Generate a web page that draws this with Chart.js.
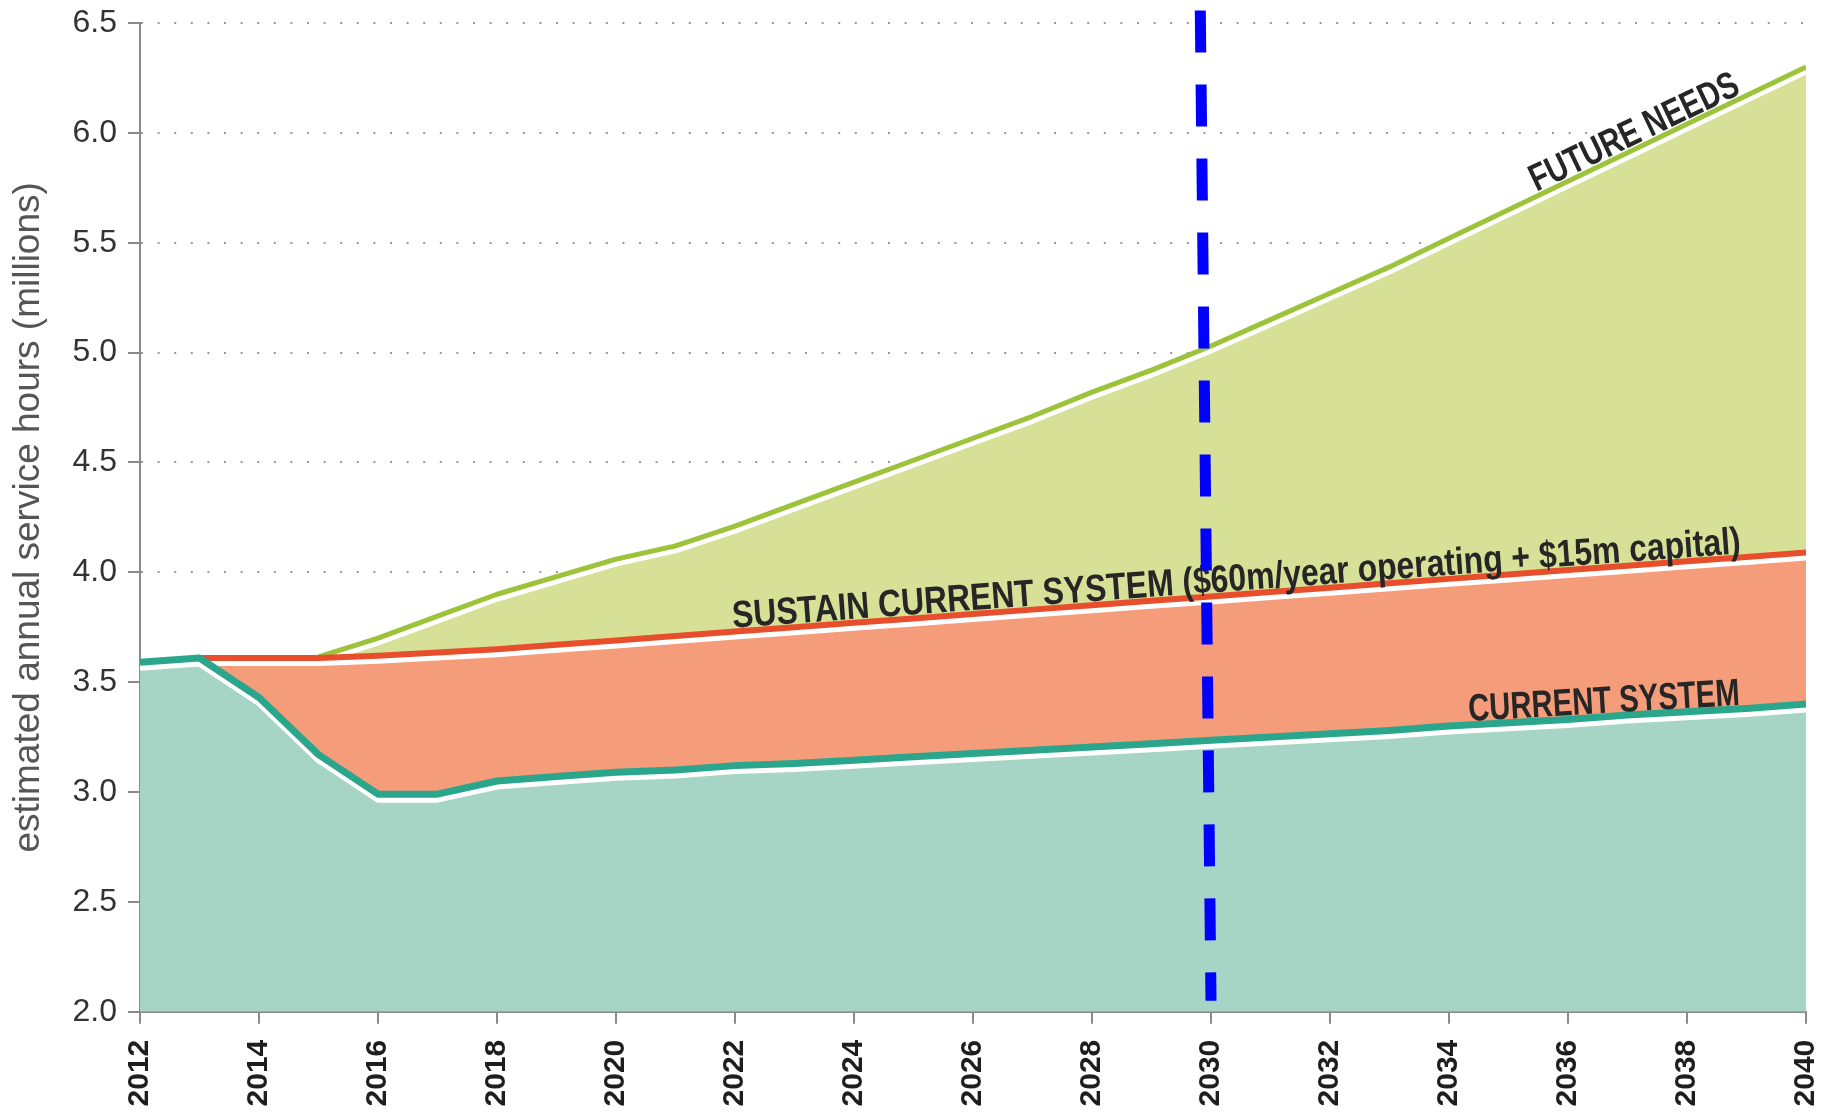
<!DOCTYPE html>
<html>
<head>
<meta charset="utf-8">
<script src="https://cdn.jsdelivr.net/npm/chart.js@4/dist/chart.umd.min.js"></script>
<style>
html,body{margin:0;padding:0;background:#ffffff;}
#wrap{width:1825px;height:1118px;}
</style>
</head>
<body>
<div id="wrap"><canvas id="c" width="1825" height="1118"></canvas></div>
<script>
// ---------- data ----------
const years = [2012,2013,2014,2015,2016,2017,2018,2019,2020,2021,2022,2023,2024,2025,2026,
               2027,2028,2029,2030,2031,2032,2033,2034,2035,2036,2037,2038,2039,2040];
const currentSystem = [3.59,3.61,3.43,3.17,2.99,2.99,3.05,3.07,3.09,3.10,3.12,3.13,3.145,3.16,3.175,
                       3.19,3.205,3.22,3.235,3.25,3.265,3.28,3.30,3.315,3.33,3.35,3.365,3.38,3.40];
const sustainSystem = [null,3.61,3.61,3.61,3.62,3.635,3.65,3.67,3.69,3.71,3.73,3.75,3.77,3.79,3.81,
                       3.83,3.85,3.87,3.89,3.91,3.93,3.95,3.97,3.99,4.01,4.03,4.05,4.07,4.09];
const futureNeeds   = [null,null,null,3.615,3.70,3.80,3.90,3.98,4.06,4.12,4.21,4.31,4.41,4.51,4.61,
                       4.71,4.82,4.92,5.03,5.15,5.27,5.39,5.52,5.65,5.78,5.91,6.04,6.17,6.30];
const markerYears  = [2029.82, 2030.0];
const markerValues = [6.557, 2.05];
const xTickYears  = [2012,2014,2016,2018,2020,2022,2024,2026,2028,2030,2032,2034,2036,2038,2040];
const yTickValues = [2.0,2.5,3.0,3.5,4.0,4.5,5.0,5.5,6.0,6.5];
const yAxisTitle = 'estimated annual service hours (millions)';
const seriesLabels = ['CURRENT SYSTEM', 'SUSTAIN CURRENT SYSTEM ($60m/year operating + $15m capital)', 'FUTURE NEEDS'];

// ---------- chart ----------
const toPts = arr => years.map((yr, i) => ({x: yr, y: arr[i]}));

// label placement along each series line (dataset index, start year, end year)
const labelPlacement = [
  {ds: 1, text: seriesLabels[0], from: 2034.34, to: 2038.9},
  {ds: 2, text: seriesLabels[1], from: 2021.97, to: 2038.92},
  {ds: 3, text: seriesLabels[2], from: 2035.5, to: 2038.95}
];

function pointOnLine(chart, dsIndex, yr) {
  const d = chart.data.datasets[dsIndex].data;
  for (let i = 0; i < d.length - 1; i++) {
    const a = d[i], b = d[i + 1];
    if (a.y == null || b.y == null) continue;
    if (yr >= a.x && yr <= b.x) {
      const t = (yr - a.x) / (b.x - a.x);
      const v = a.y + t * (b.y - a.y);
      return {x: chart.scales.x.getPixelForValue(yr), y: chart.scales.y.getPixelForValue(v)};
    }
  }
  return null;
}

const lineDecor = {
  id: 'lineDecor',
  beforeDatasetDraw(chart, args) {
    if (args.index >= 1) {
      const ctx = chart.ctx;
      ctx.save();
      ctx.shadowColor = '#ffffff';
      ctx.shadowOffsetX = 0;
      ctx.shadowOffsetY = 5;
      ctx.shadowBlur = 0;
    }
  },
  afterDatasetDraw(chart, args) {
    const ctx = chart.ctx;
    if (args.index >= 1) ctx.restore();
    if (args.index === 1) {
      // draw labels before the 2030 marker
      labelPlacement.forEach(l => {
        const p0 = pointOnLine(chart, l.ds, l.from);
        const p1 = pointOnLine(chart, l.ds, l.to);
        if (!p0 || !p1) return;
        ctx.save();
        ctx.translate(p0.x, p0.y);
        ctx.rotate(Math.atan2(p1.y - p0.y, p1.x - p0.x));
        ctx.translate(0, -4);
        ctx.font = 'bold 38px "Liberation Sans", Arial, sans-serif';
        const w = ctx.measureText(l.text).width;
        const len = Math.hypot(p1.x - p0.x, p1.y - p0.y);
        ctx.scale(len / w, 1);
        ctx.fillStyle = '#262626';
        ctx.textBaseline = 'alphabetic';
        ctx.textAlign = 'left';
        ctx.fillText(l.text, 0, 0);
        ctx.restore();
      });
    }
  }
};

new Chart(document.getElementById('c'), {
  type: 'line',
  data: {
    datasets: [
      {
        label: '2030',
        data: markerYears.map((x, i) => ({x: x, y: markerValues[i]})),
        borderColor: '#0000ff', borderWidth: 11, borderDash: [42, 32], borderCapStyle: 'butt',
        pointRadius: 0, fill: false, clip: false, tension: 0
      },
      {
        label: 'Current system',
        data: toPts(currentSystem),
        borderColor: '#2aa68d', backgroundColor: '#a7d5c5', borderWidth: 7,
        fill: 'start', pointRadius: 0, tension: 0, borderJoinStyle: 'round'
      },
      {
        label: 'Sustain current system',
        data: toPts(sustainSystem),
        borderColor: '#e84e2b', backgroundColor: '#f59c7a', borderWidth: 6,
        fill: '-1', pointRadius: 0, tension: 0, borderJoinStyle: 'round'
      },
      {
        label: 'Future needs',
        data: toPts(futureNeeds),
        borderColor: '#9cc33a', backgroundColor: '#d6e096', borderWidth: 5,
        fill: '-1', pointRadius: 0, tension: 0, borderJoinStyle: 'round'
      }
    ]
  },
  options: {
    responsive: false,
    animation: false,
    devicePixelRatio: 1,
    layout: {padding: {top: 23, right: 19, left: 0, bottom: 0}},
    plugins: {
      legend: {display: false},
      tooltip: {enabled: false},
      filler: {drawTime: 'beforeDatasetsDraw', propagate: false}
    },
    scales: {
      x: {
        type: 'linear', min: 2012, max: 2040,
        afterBuildTicks: s => { s.ticks = xTickYears.map(v => ({value: v})); },
        afterFit: s => { s.height = 106.3; s.paddingRight = 0; s.paddingLeft = 0; },
        ticks: {
          callback: v => String(v), autoSkip: false,
          minRotation: 90, maxRotation: 90, padding: 16,
          font: {family: '"Liberation Sans", Arial, sans-serif', weight: 'bold', size: 30},
          color: '#1e1e1e'
        },
        grid: {drawOnChartArea: false, drawTicks: true, tickLength: 12, color: '#8a8a8a', lineWidth: 2},
        border: {display: true, color: '#8a8a8a', width: 2}
      },
      y: {
        min: 2, max: 6.5, z: 1,
        afterBuildTicks: s => { s.ticks = yTickValues.map(v => ({value: v})); },
        afterFit: s => { s.width = 140; s.paddingTop = 0; s.paddingBottom = 0; },
        ticks: {
          callback: v => Number(v).toFixed(1), padding: 11,
          font: {family: '"Liberation Sans", Arial, sans-serif', size: 32},
          color: '#333333'
        },
        grid: {color: 'rgba(110,110,110,0.7)', lineWidth: 2, tickLength: 12,
               tickColor: '#8a8a8a', tickWidth: 2, tickBorderDash: [], drawTicks: true},
        border: {display: true, color: '#8a8a8a', width: 2, dash: [2, 14.6]},
        title: {
          display: true, text: yAxisTitle,
          font: {family: '"Liberation Sans", Arial, sans-serif', size: 37},
          color: '#555555', padding: {top: 7, bottom: 0}
        }
      }
    }
  },
  plugins: [lineDecor]
});
</script>
</body>
</html>
